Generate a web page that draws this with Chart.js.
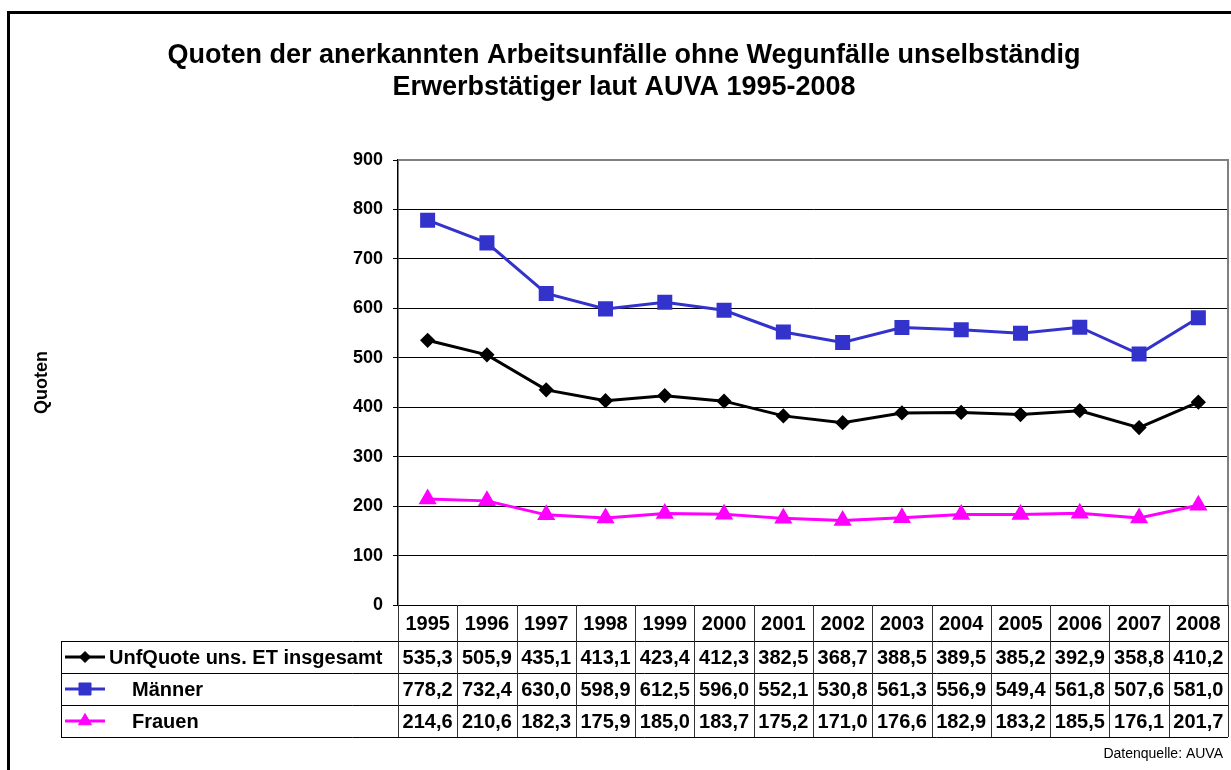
<!DOCTYPE html>
<html>
<head>
<meta charset="utf-8">
<script src="https://cdn.jsdelivr.net/npm/chart.js@4.4.0/dist/chart.umd.min.js"></script>
<style>
  body { margin: 0; background: #fff; }
  #chart { display: block; }
</style>
</head>
<body>
<canvas id="chart" width="1231" height="770"></canvas>
<script>
const years = ["1995", "1996", "1997", "1998", "1999", "2000", "2001", "2002", "2003", "2004", "2005", "2006", "2007", "2008"];
const insgesamt = [535.3, 505.9, 435.1, 413.1, 423.4, 412.3, 382.5, 368.7, 388.5, 389.5, 385.2, 392.9, 358.8, 410.2];
const maenner = [778.2, 732.4, 630.0, 598.9, 612.5, 596.0, 552.1, 530.8, 561.3, 556.9, 549.4, 561.8, 507.6, 581.0];
const frauen = [214.6, 210.6, 182.3, 175.9, 185.0, 183.7, 175.2, 171.0, 176.6, 182.9, 183.2, 185.5, 176.1, 201.7];
const seriesNames = ["UnfQuote uns. ET insgesamt", "Männer", "Frauen"];
const yMin = 0, yMax = 900, yStep = 100;

const FONT = "'Liberation Sans', Arial, sans-serif";

const fmt = (v) => v.toFixed(1).replace(".", ",");

// white background, plot frame, data table under the chart
const tablePlugin = {
  id: "dataTable",
  beforeDraw(chart) {
    const ctx = chart.ctx;
    ctx.save();
    ctx.fillStyle = "#fff";
    ctx.fillRect(0, 0, chart.width, chart.height);
    ctx.restore();
  },
  beforeDatasetsDraw(chart) {
    const { ctx, chartArea: a } = chart;
    ctx.save();
    ctx.strokeStyle = "#808080";
    ctx.lineWidth = 2;
    ctx.beginPath();
    ctx.moveTo(a.left, a.top);
    ctx.lineTo(a.right, a.top);
    ctx.lineTo(a.right, a.bottom);
    ctx.stroke();
    ctx.restore();
  },
  afterDraw(chart) {
    const { ctx, chartArea: a } = chart;
    const x = chart.scales.x;
    const cellW = (a.right - a.left) / years.length;
    const yearBottom = a.bottom + 36;
    const rowH = 32;
    const tableLeft = 61;
    const tableBottom = yearBottom + rowH * 3;

    ctx.save();
    // lines
    ctx.strokeStyle = "#000";
    ctx.lineWidth = 1;
    ctx.beginPath();
    ctx.moveTo(a.left, a.bottom + 0.5);
    ctx.lineTo(a.right, a.bottom + 0.5);
    for (let r = 0; r <= 3; r++) {
      const yy = Math.round(yearBottom + r * rowH) + 0.5;
      ctx.moveTo(tableLeft, yy);
      ctx.lineTo(a.right, yy);
    }
    ctx.moveTo(tableLeft + 0.5, yearBottom);
    ctx.lineTo(tableLeft + 0.5, tableBottom);
    ctx.stroke();

    ctx.strokeStyle = "#333";
    ctx.beginPath();
    for (let i = 0; i <= years.length; i++) {
      const xx = Math.round(a.left + i * cellW) + 0.5;
      ctx.moveTo(xx, a.bottom);
      ctx.lineTo(xx, tableBottom);
    }
    ctx.stroke();

    // texts
    ctx.fillStyle = "#000";
    ctx.textAlign = "center";
    ctx.textBaseline = "middle";
    ctx.font = "bold 20px " + FONT;
    years.forEach((yr, i) => {
      ctx.fillText(yr, x.getPixelForValue(i), a.bottom + 19);
    });
    chart.data.datasets.forEach((ds, r) => {
      const cy = yearBottom + r * rowH + rowH / 2 + 1;
      ds.data.forEach((v, i) => {
        ctx.fillText(fmt(v), x.getPixelForValue(i), cy);
      });
    });

    // legend keys
    ctx.textAlign = "left";
    chart.data.datasets.forEach((ds, r) => {
      const cy = yearBottom + r * rowH + rowH / 2;
      ctx.strokeStyle = ds.borderColor;
      ctx.lineWidth = 3;
      ctx.beginPath();
      ctx.moveTo(65, cy);
      ctx.lineTo(105, cy);
      ctx.stroke();
      ctx.fillStyle = ds.pointBackgroundColor;
      ctx.strokeStyle = ds.pointBorderColor;
      ctx.lineWidth = 1;
      Chart.helpers.drawPoint(ctx, { pointStyle: ds.pointStyle, radius: ds.pointRadius, borderWidth: 1, rotation: 0 }, 85, cy);
      ctx.fillStyle = "#000";
      ctx.fillText(ds.label, r === 0 ? 109 : 132, cy + 1);
    });

    // source note
    ctx.font = "14px " + FONT;
    ctx.textAlign = "right";
    ctx.fillText("Datenquelle: AUVA", 1223, 754);

    // outer frame
    ctx.strokeStyle = "#000";
    ctx.lineWidth = 3;
    ctx.strokeRect(8.5, 12.5, 1400, 900);
    ctx.restore();
  }
};

new Chart(document.getElementById("chart"), {
  type: "line",
  data: {
    labels: years,
    datasets: [
      {
        label: seriesNames[0],
        data: insgesamt,
        borderColor: "#000",
        borderWidth: 3,
        pointStyle: "rectRot",
        pointRadius: 5.5,
        pointBackgroundColor: "#000",
        pointBorderColor: "#000",
        tension: 0
      },
      {
        label: seriesNames[1],
        data: maenner,
        borderColor: "#3333CC",
        borderWidth: 3,
        pointStyle: "rect",
        pointRadius: 8.5,
        pointBackgroundColor: "#3333CC",
        pointBorderColor: "#3333CC",
        tension: 0
      },
      {
        label: seriesNames[2],
        data: frauen,
        borderColor: "#FF00FF",
        borderWidth: 3,
        pointStyle: "triangle",
        pointRadius: 7.5,
        pointBackgroundColor: "#FF00FF",
        pointBorderColor: "#FF00FF",
        tension: 0
      }
    ]
  },
  options: {
    responsive: false,
    animation: false,
    layout: { autoPadding: false, padding: { left: 20, right: 3, top: 0, bottom: 165 } },
    plugins: {
      legend: { display: false },
      tooltip: { enabled: false },
      title: {
        display: true,
        text: ["Quoten der anerkannten Arbeitsunfälle ohne Wegunfälle unselbständig", "Erwerbstätiger laut AUVA 1995-2008"],
        color: "#000",
        font: { family: FONT, size: 27, weight: "bold", lineHeight: 32 / 27 },
        padding: { top: 40, bottom: 56 }
      }
    },
    scales: {
      x: {
        display: false,
        offset: true
      },
      y: {
        min: yMin,
        max: yMax,
        ticks: {
          stepSize: yStep,
          color: "#000",
          padding: 10,
          font: { family: FONT, size: 18, weight: "bold" }
        },
        grid: { color: "#000", lineWidth: 1, tickLength: 5 },
        border: { color: "#000", width: 1.5 },
        title: {
          display: true,
          text: "Quoten",
          color: "#000",
          font: { family: FONT, size: 18, weight: "bold" },
          padding: { top: 11, bottom: 0 }
        },
        afterFit(scale) { scale.width = 378; }
      }
    }
  },
  plugins: [tablePlugin]
});
</script>
</body>
</html>
